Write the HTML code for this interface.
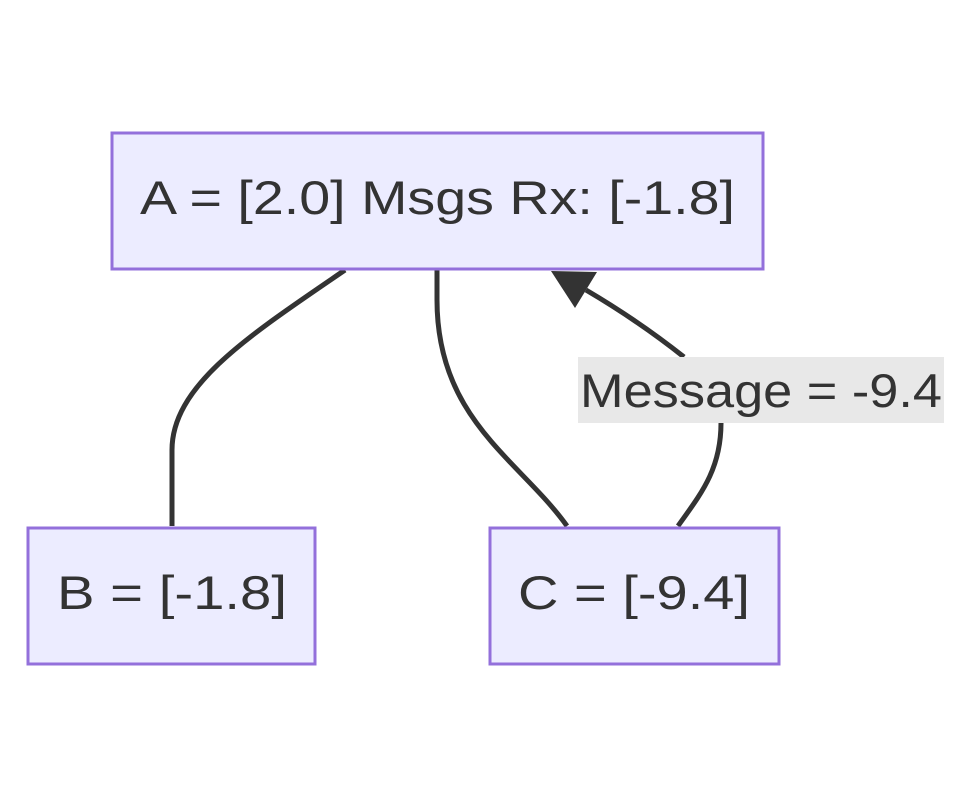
<!DOCTYPE html>
<html><head><style>
body{margin:0;background:#fff;width:972px;height:798px;overflow:hidden;}
</style></head><body>
<svg width="972" height="798" xmlns="http://www.w3.org/2000/svg" font-family="'Liberation Sans', sans-serif">
<g fill="none" stroke="#333" stroke-width="5">
<path d="M345,270 C250,335 172,385 172,450 L172,526"/>
<path d="M437,270 L437,300 C437,420 520,460 567,526"/>
<path d="M678,526 C700,495 721,470 721,423"/>
<path d="M684,357 C650,330 620,310 586,290"/>
</g>
<polygon points="551,271 597,272 575,308" fill="#333"/>
<rect x="578" y="357" width="366" height="66" fill="#e8e8e8"/>
<text x="580" y="407" font-size="47" fill="#333" textLength="362" lengthAdjust="spacingAndGlyphs">Message = -9.4</text>
<rect x="112" y="133" width="651" height="136" fill="#ececff" stroke="#9370db" stroke-width="3"/>
<text x="140" y="214" font-size="47" fill="#333" textLength="595" lengthAdjust="spacingAndGlyphs">A = [2.0] Msgs Rx: [-1.8]</text>
<rect x="28" y="528" width="287" height="136" fill="#ececff" stroke="#9370db" stroke-width="3"/>
<text x="57" y="609" font-size="47" fill="#333" textLength="230" lengthAdjust="spacingAndGlyphs">B = [-1.8]</text>
<rect x="490" y="528" width="289" height="136" fill="#ececff" stroke="#9370db" stroke-width="3"/>
<text x="518" y="609" font-size="47" fill="#333" textLength="232" lengthAdjust="spacingAndGlyphs">C = [-9.4]</text>
</svg>
</body></html>
